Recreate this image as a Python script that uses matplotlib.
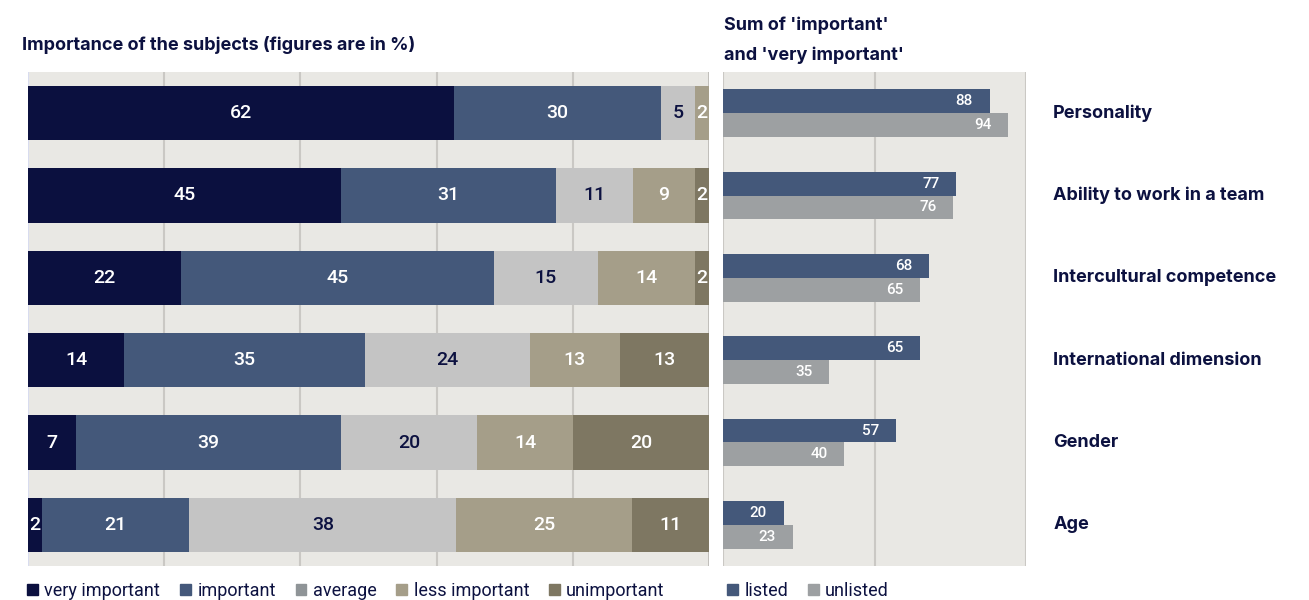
import matplotlib.pyplot as plt
from matplotlib.patches import Patch

plt.rcParams['font.family'] = ['Roboto', 'DejaVu Sans']

categories = ["Personality", "Ability to work in a team", "Intercultural competence",
              "International dimension", "Gender", "Age"]
levels = ["very important", "important", "average", "less important", "unimportant"]
very_important = [62, 45, 22, 14, 7, 2]
important = [30, 31, 45, 35, 39, 21]
average = [5, 11, 15, 24, 20, 38]
less_important = [2, 9, 14, 13, 14, 25]
unimportant = [0, 2, 2, 13, 20, 11]
listed = [88, 77, 68, 65, 57, 20]
unlisted = [94, 76, 65, 35, 40, 23]

navy = "#0c1140"
bg = "#e9e8e4"
grid_c = "#cac8c4"
level_colors = ["#0b103f", "#44587a", "#c4c4c4", "#a59e89", "#7e7762"]
legend_colors = ["#0b103f", "#44587a", "#8f9497", "#a59e89", "#7e7762"]
text_colors = ["white", "white", navy, "white", "white"]
listed_color = "#44587a"
unlisted_color = "#9da0a2"
head_font = ['Inter', 'DejaVu Sans']

fig = plt.figure(figsize=(13.09, 6.0), dpi=100)
ax1 = fig.add_axes([28 / 1309, 1 - 566 / 600, 681 / 1309, 494 / 600])
ax2 = fig.add_axes([723 / 1309, 1 - 566 / 600, 303 / 1309, 494 / 600])

series = [very_important, important, average, less_important, unimportant]
ypos = list(range(len(categories)))

for ax in (ax1, ax2):
    ax.set_facecolor(bg)
    ax.set_ylim(len(categories) - 0.5, -0.5)
    ax.set_yticks([])
    ax.set_xticks([])
    for s in ax.spines.values():
        s.set_visible(False)

# left: stacked shares, normalised per row
ax1.set_xlim(0, 1)
for g in [0.2, 0.4, 0.6, 0.8]:
    ax1.axvline(g, color=grid_c, lw=1.5, zorder=0)
ax1.axvline(1, color="#bdbbb6", lw=2, zorder=0)
ax1.axvline(0, color="#d8dcef", lw=1.5, zorder=0)

for i, y in enumerate(ypos):
    total = sum(s[i] for s in series)
    left = 0
    for k, s in enumerate(series):
        v = s[i]
        if v == 0:
            continue
        w = v / total
        ax1.barh(y, w, left=left, height=0.66, color=level_colors[k], zorder=2)
        ax1.text(left + w / 2, y, str(v), ha="center", va="center",
                 color=text_colors[k], fontsize=14, fontweight="medium", zorder=3)
        left += w

# right: sums
ax2.set_xlim(0, 100)
ax2.axvline(50, color=grid_c, lw=1.5, zorder=0)
ax2.axvline(100, color=grid_c, lw=1.5, zorder=0)
ax2.axvline(0, color=grid_c, lw=1.5, zorder=0)
h = 0.29
for i, y in enumerate(ypos):
    ax2.barh(y - h / 2, listed[i], height=h, color=listed_color, zorder=2)
    ax2.barh(y + h / 2, unlisted[i], height=h, color=unlisted_color, zorder=2)
    ax2.annotate(str(listed[i]), (listed[i], y - h / 2), xytext=(-12, 0),
                 textcoords="offset points", ha="right", va="center",
                 color="white", fontsize=11, fontweight="medium", zorder=3)
    ax2.annotate(str(unlisted[i]), (unlisted[i], y + h / 2), xytext=(-12, 0),
                 textcoords="offset points", ha="right", va="center",
                 color="white", fontsize=11, fontweight="medium", zorder=3)
    ax2.annotate(categories[i], (1, y), xycoords=("axes fraction", "data"),
                 xytext=(19.5, 0), textcoords="offset points", ha="left",
                 va="center", color=navy, fontsize=13, fontweight="bold",
                 family=head_font, annotation_clip=False)

# titles
fig.text(22 / 1309, 1 - 45 / 600, "Importance of the subjects (figures are in %)",
         ha="left", va="center", color=navy, fontsize=13, fontweight="bold",
         family=head_font)
fig.text(724 / 1309, 1 - 25 / 600, "Sum of 'important'",
         ha="left", va="center", color=navy, fontsize=13, fontweight="bold",
         family=head_font)
fig.text(724 / 1309, 1 - 55 / 600, "and 'very important'",
         ha="left", va="center", color=navy, fontsize=13, fontweight="bold",
         family=head_font)

# legends
h1 = [Patch(color=c) for c in legend_colors]
fig.legend(h1, levels, loc="center left", bbox_to_anchor=(20 / 1309, 1 - 591 / 600),
           ncol=5, frameon=False, handlelength=0.6, handleheight=0.6,
           handletextpad=0.35, columnspacing=1.1, fontsize=13, labelcolor=navy,
           borderaxespad=0)
h2 = [Patch(color=listed_color), Patch(color=unlisted_color)]
fig.legend(h2, ["listed", "unlisted"], loc="center left",
           bbox_to_anchor=(720 / 1309, 1 - 591 / 600), ncol=2, frameon=False,
           handlelength=0.6, handleheight=0.6, handletextpad=0.35,
           columnspacing=1.1, fontsize=13, labelcolor=navy, borderaxespad=0)

fig.savefig("out.png", dpi=100)
